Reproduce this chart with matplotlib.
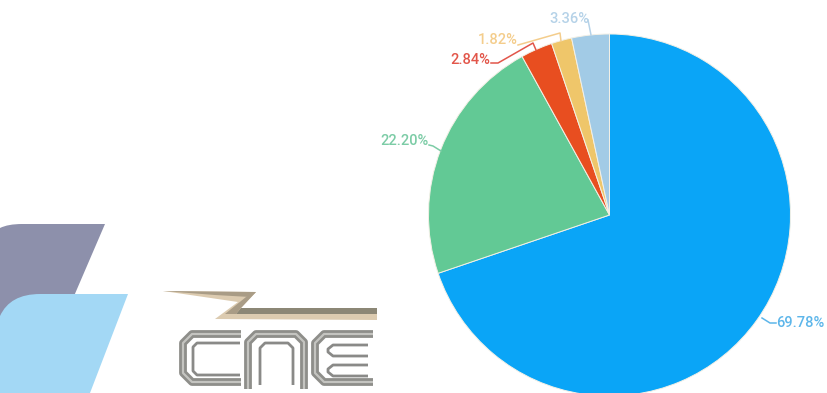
import matplotlib
matplotlib.use("Agg")
import matplotlib.pyplot as plt
from matplotlib.patches import Polygon, PathPatch
from matplotlib.path import Path

plt.rcParams["font.family"] = ["Roboto", "DejaVu Sans"]

W, H = 827, 393
shares = [69.78, 22.20, 2.84, 1.82, 3.36]
colors = ["#0aa5f7", "#62c995", "#e84e20", "#efc66a", "#a2cbe6"]
label_colors = ["#5db6ea", "#7ccca6", "#e2564a", "#f4cd8c", "#b5d2e8"]
# text anchor and leader route for each slice label, in pixels from the top left
label_xy = [(776, 323), (429, 141), (490, 60), (518, 40), (589, 19)]
label_ha = ["left", "right", "right", "right", "right"]
leaders = [
    [(776, 323), (770, 323), (762, 318)],
    [(429, 145), (433, 146), (441, 151)],
    [(491, 63), (498, 63), (533, 43), (536, 50)],
    [(518, 45), (560, 33), (561, 41)],
    [(588, 20), (591, 35)],
]


def flip(points):
    return [(x, H - y) for x, y in points]


fig = plt.figure(figsize=(W / 100, H / 100), dpi=100)
ax = fig.add_axes([0, 0, 1, 1])

# Slanted brand panels in the lower left corner
grey_panel = Path(
    flip([(0, 228), (8, 224), (22, 224), (105, 224), (68, 310), (0, 325), (0, 228)]),
    [Path.MOVETO, Path.CURVE3, Path.CURVE3, Path.LINETO, Path.LINETO, Path.LINETO, Path.CLOSEPOLY],
)
ax.add_patch(PathPatch(grey_panel, fc="#8d90ab", ec="none", zorder=1))
blue_panel = Path(
    flip([(0, 316), (10, 294), (40, 294), (128, 294), (90, 393), (0, 393), (0, 316)]),
    [Path.MOVETO, Path.CURVE3, Path.CURVE3, Path.LINETO, Path.LINETO, Path.LINETO, Path.CLOSEPOLY],
)
ax.add_patch(PathPatch(blue_panel, fc="#a3d8f5", ec="none", zorder=2))

# CNE logo: lightning stroke above metallic lettering
ax.add_patch(Polygon(flip([(163, 291), (256, 292), (241, 308), (377, 308), (377, 320),
                           (215, 319), (238, 302)]), fc="#dccbb0", ec="none", zorder=2))
ax.add_patch(Polygon(flip([(163, 291), (256, 292), (250, 297), (215, 295)]),
                     fc="#a99c86", ec="none", zorder=3))
ax.add_patch(Polygon(flip([(241, 308), (377, 308), (377, 314), (236, 314)]),
                     fc="#8c8776", ec="none", zorder=3))
ax.add_patch(Polygon(flip([(256, 292), (241, 308), (236, 314), (225, 314), (246, 297)]),
                     fc="#a99c86", ec="none", zorder=3))

# Broad outer bands of each letter
letter_bands = [
    [(241, 334), (192, 334), (183, 343), (183, 373), (192, 382), (241, 382)],
    [(248, 389), (248, 342), (256, 334), (296, 334), (304, 342), (304, 389)],
    [(373, 334), (324, 334), (315, 343), (315, 373), (324, 382), (373, 382)],
]
# Thin inner contours of each letter
letter_contours = [
    [(240, 343), (197, 343), (193, 347), (193, 371), (197, 375), (240, 375)],
    [(260, 385), (260, 348), (265, 343), (288, 343), (293, 348), (293, 385)],
    [(368, 345), (333, 345), (328, 349), (328, 352), (333, 356), (368, 356)],
    [(368, 365), (333, 365), (328, 369), (328, 372), (333, 376), (368, 376)],
]
for stroke in letter_bands:
    xs, ys = zip(*flip(stroke))
    ax.plot(xs, ys, color="#8e8e8a", lw=5.6, solid_capstyle="butt", solid_joinstyle="round", zorder=3)
    ax.plot(xs, ys, color="#c4c4c0", lw=1.6, solid_capstyle="butt", solid_joinstyle="round", zorder=4)
for stroke in letter_contours:
    xs, ys = zip(*flip(stroke))
    ax.plot(xs, ys, color="#8a8a88", lw=2.0, solid_capstyle="butt", solid_joinstyle="round", zorder=3)

# Share of total by slice, clockwise from twelve o'clock
ax.pie(
    shares,
    colors=colors,
    startangle=90,
    counterclock=False,
    center=(609.5, H - 215),
    radius=181,
    frame=True,
    wedgeprops={"edgecolor": "#f3f0e6", "linewidth": 0.7, "zorder": 5},
)

for value, color, xy, ha, route in zip(shares, label_colors, label_xy, label_ha, leaders):
    xs, ys = zip(*flip(route))
    ax.plot(xs, ys, color=color, lw=1.1, zorder=6, solid_joinstyle="round")
    ax.text(xy[0], H - xy[1], f"{value:.2f}%", color=color, fontsize=10.5, fontweight="medium",
            ha=ha, va="center", zorder=7)

ax.set_xlim(0, W)
ax.set_ylim(0, H)
ax.set_aspect("equal")
ax.axis("off")

fig.savefig("out.png", dpi=100, facecolor="white")
